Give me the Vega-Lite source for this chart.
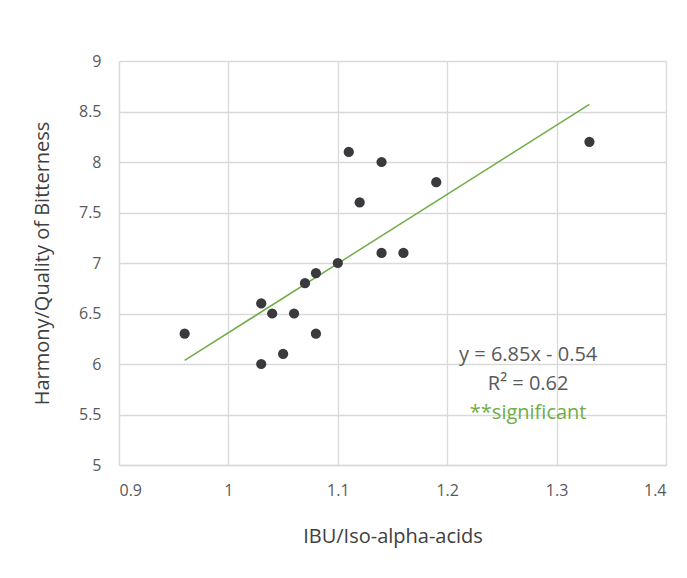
{
  "$schema": "https://vega.github.io/schema/vega-lite/v6.json",
  "autosize": "none",
  "width": 547,
  "height": 404,
  "padding": {"left": 119, "top": 61, "right": 21, "bottom": 113},
  "background": "white",
  "config": {
    "view": {"stroke": null},
    "font": "Open Sans",
    "axis": {
      "gridColor": "#d9d9d9",
      "gridWidth": 1.3,
      "domain": true,
      "domainColor": "#d9d9d9",
      "domainWidth": 1.3,
      "ticks": false,
      "labelColor": "#595959",
      "labelFontSize": 16,
      "labelFont": "Open Sans",
      "format": "~g",
      "titleColor": "#404040",
      "titleFontSize": 20,
      "titleFontWeight": "normal",
      "titleFont": "Open Sans"
    }
  },
  "datasets": {
    "pts": [
      {"ibu": 0.96, "harmony": 6.3},
      {"ibu": 1.03, "harmony": 6.6},
      {"ibu": 1.03, "harmony": 6.0},
      {"ibu": 1.04, "harmony": 6.5},
      {"ibu": 1.05, "harmony": 6.1},
      {"ibu": 1.06, "harmony": 6.5},
      {"ibu": 1.07, "harmony": 6.8},
      {"ibu": 1.08, "harmony": 6.9},
      {"ibu": 1.08, "harmony": 6.3},
      {"ibu": 1.10, "harmony": 7.0},
      {"ibu": 1.11, "harmony": 8.1},
      {"ibu": 1.12, "harmony": 7.6},
      {"ibu": 1.14, "harmony": 8.0},
      {"ibu": 1.14, "harmony": 7.1},
      {"ibu": 1.16, "harmony": 7.1},
      {"ibu": 1.19, "harmony": 7.8},
      {"ibu": 1.33, "harmony": 8.2}
    ],
    "trend": [
      {"ibu": 0.96, "harmony": 6.036},
      {"ibu": 1.33, "harmony": 8.57}
    ],
    "notes": [
      {"ibu": 1.274, "harmony": 6.09, "label": "y = 6.85x - 0.54", "kind": "eq"},
      {"ibu": 1.274, "harmony": 5.8, "label": "R² = 0.62", "kind": "eq"},
      {"ibu": 1.274, "harmony": 5.51, "label": "**significant", "kind": "sig"}
    ]
  },
  "encoding": {
    "x": {
      "field": "ibu",
      "type": "quantitative",
      "scale": {"domain": [0.9, 1.4], "nice": false, "zero": false},
      "axis": {"values": [0.9, 1, 1.1, 1.2, 1.3, 1.4], "title": "IBU/Iso-alpha-acids", "labelPadding": 17, "titlePadding": 28, "grid": true}
    },
    "y": {
      "field": "harmony",
      "type": "quantitative",
      "scale": {"domain": [5, 9], "nice": false, "zero": false},
      "axis": {"values": [5, 5.5, 6, 6.5, 7, 7.5, 8, 8.5, 9], "title": "Harmony/Quality of Bitterness", "labelPadding": 18, "titlePadding": 26, "grid": true}
    }
  },
  "layer": [
    {
      "data": {"values": [{"frame": 1}]},
      "mark": {"type": "rule", "color": "#5a5a5a", "strokeWidth": 2, "clip": false},
      "encoding": {
        "x": {"datum": 0.7976, "type": "quantitative"},
        "y": {"datum": 9.525, "type": "quantitative"},
        "y2": {"datum": 3.7}
      }
    },
    {
      "data": {"values": [{"frame": 1}]},
      "mark": {"type": "rule", "color": "#5a5a5a", "strokeWidth": 2, "clip": false},
      "encoding": {
        "x": {"datum": 0.7976, "type": "quantitative"},
        "x2": {"datum": 1.47},
        "y": {"datum": 9.525, "type": "quantitative"}
      }
    },
    {
      "data": {"name": "trend"},
      "mark": {"type": "line", "color": "#70ad47", "strokeWidth": 1.5}
    },
    {
      "data": {"name": "pts"},
      "mark": {"type": "circle", "size": 105, "color": "#3a3a3e", "opacity": 1}
    },
    {
      "data": {"name": "notes"},
      "mark": {"type": "text", "fontSize": 20, "font": "Open Sans", "align": "center", "baseline": "middle"},
      "encoding": {
        "text": {"field": "label"},
        "color": {
          "field": "kind",
          "type": "nominal",
          "scale": {"domain": ["eq", "sig"], "range": ["#595959", "#70ad47"]},
          "legend": null
        }
      }
    }
  ]
}
